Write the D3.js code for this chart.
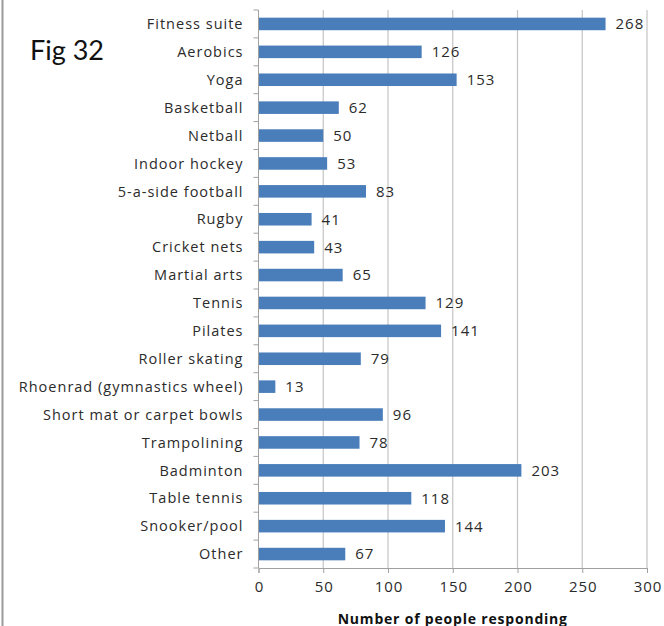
<!DOCTYPE html>
<html>
<head>
<meta charset="utf-8">
<script src="https://cdn.jsdelivr.net/npm/d3@7"></script>
<style>
  html, body { margin: 0; padding: 0; background: #fff; }
  svg { display: block; }
</style>
</head>
<body>
<svg id="chart" width="664" height="626"></svg>
<script>
// Facilities people would like to use
const categories = [
  "Fitness suite", "Aerobics", "Yoga", "Basketball", "Netball", "Indoor hockey",
  "5-a-side football", "Rugby", "Cricket nets", "Martial arts", "Tennis", "Pilates",
  "Roller skating", "Rhoenrad (gymnastics wheel)", "Short mat or carpet bowls",
  "Trampolining", "Badminton", "Table tennis", "Snooker/pool", "Other"
];
const responses = [268, 126, 153, 62, 50, 53, 83, 41, 43, 65, 129, 141, 79, 13, 96, 78, 203, 118, 144, 67];
const xTicks = [0, 50, 100, 150, 200, 250, 300];
const figureLabel = "Fig 32";
const xTitle = "Number of people responding";

const font = "'Open Sans', sans-serif";
const svg = d3.select("#chart");
const W = 664, H = 626;
const m = { left: 258.5, right: 17, top: 10, bottom: 58 };

const x = d3.scaleLinear().domain([0, 300]).range([m.left, W - m.right]);
const y = d3.scaleBand().domain(categories).range([m.top, H - m.bottom]).paddingInner(0.55).paddingOuter(0.275);

// page frame edge on the left
svg.append("line").attr("x1", 2.5).attr("x2", 2.5).attr("y1", 0).attr("y2", H)
  .attr("stroke", "#9a9a9a").attr("stroke-width", 2);

// figure label
svg.append("text").attr("x", 30).attr("y", 60).text(figureLabel)
  .attr("font-family", "Lato, sans-serif").attr("font-size", 27).attr("fill", "#111");

// vertical gridlines
svg.append("g").selectAll("line").data(xTicks.slice(1)).join("line")
  .attr("x1", d => x(d)).attr("x2", d => x(d))
  .attr("y1", m.top).attr("y2", H - m.bottom)
  .attr("stroke", "#c4c4c4").attr("stroke-width", 1.2);

// bars
svg.append("g").selectAll("rect").data(categories).join("rect")
  .attr("x", x(0)).attr("y", d => y(d))
  .attr("width", (d, i) => x(responses[i]) - x(0))
  .attr("height", y.bandwidth())
  .attr("fill", "#4a7ebb");

// value labels
svg.append("g").selectAll("text").data(categories).join("text")
  .attr("x", (d, i) => x(responses[i]) + 10)
  .attr("y", d => y(d) + y.bandwidth() / 2)
  .attr("dy", "0.36em")
  .text((d, i) => responses[i])
  .attr("font-family", font).attr("font-size", 15).attr("letter-spacing", 1).attr("fill", "#2b2b2b");

// x axis
const xAxis = d3.axisBottom(x).tickValues(xTicks).tickSize(5).tickPadding(8);
const gx = svg.append("g").attr("transform", `translate(0,${H - m.bottom})`).call(xAxis);
gx.select(".domain").attr("stroke", "#a0a0a0");
gx.selectAll(".tick line").attr("stroke", "#a0a0a0");
gx.selectAll("text").attr("font-family", font).attr("font-size", 15).attr("letter-spacing", 1)
  .attr("dx", "0.5").attr("fill", "#2b2b2b");

// y axis with ticks between categories
const step = y.step();
const gy = svg.append("g");
gy.append("line").attr("x1", m.left).attr("x2", m.left).attr("y1", m.top).attr("y2", H - m.bottom)
  .attr("stroke", "#a0a0a0");
gy.selectAll("line.t").data(d3.range(categories.length + 1)).join("line").attr("class", "t")
  .attr("x1", m.left - 5).attr("x2", m.left)
  .attr("y1", i => m.top + i * step).attr("y2", i => m.top + i * step)
  .attr("stroke", "#a0a0a0");
gy.selectAll("text").data(categories).join("text")
  .attr("x", m.left - 15)
  .attr("y", d => y(d) + y.bandwidth() / 2)
  .attr("dy", "0.36em")
  .attr("text-anchor", "end")
  .text(d => d)
  .attr("font-family", font).attr("font-size", 14.5).attr("letter-spacing", 1).attr("fill", "#2b2b2b");

// axis title
svg.append("text").attr("x", (x(0) + x(300)) / 2).attr("y", 624)
  .attr("text-anchor", "middle").text(xTitle)
  .attr("font-family", font).attr("font-size", 14).attr("font-weight", "bold")
  .attr("letter-spacing", 0.8).attr("fill", "#111");
</script>
</body>
</html>
